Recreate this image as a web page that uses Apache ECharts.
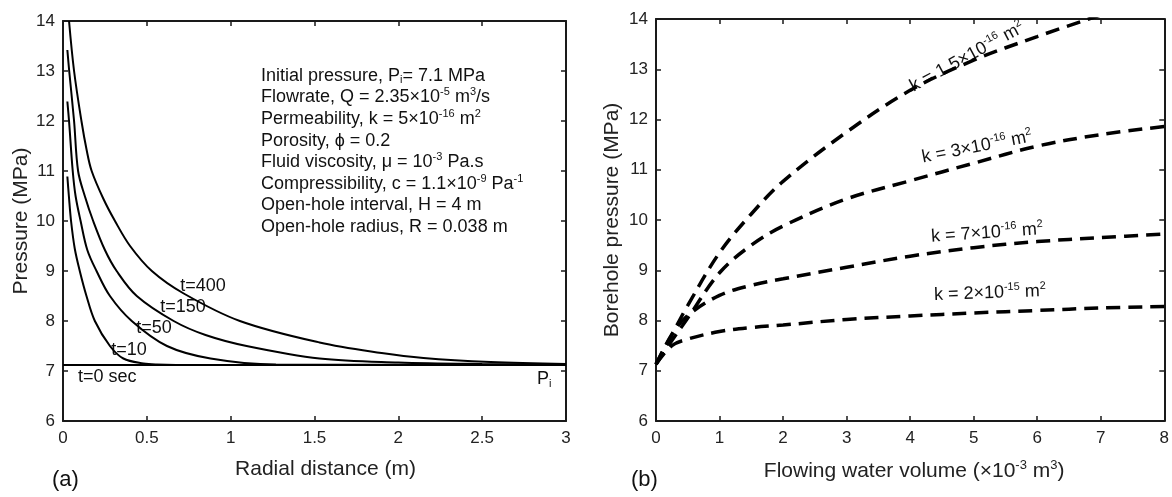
<!DOCTYPE html>
<html>
<head>
<meta charset="utf-8">
<script src="https://cdn.jsdelivr.net/npm/echarts@6/dist/echarts.min.js"></script>
<style>
  html, body { margin: 0; padding: 0; background: #fff; }
  #chart { width: 1172px; height: 497px; }
</style>
</head>
<body>
<div id="chart"></div>
<script>
// (a) pressure vs radial distance, one curve per time
var initialP = 7.12
var distRange = [0, 3]
var t10R = [0.026, 0.035, 0.048, 0.07, 0.1, 0.14, 0.19, 0.28, 0.36, 0.48, 0.56, 0.8, 3]
var t10P = [10.89, 10.5, 10.0, 9.45, 9.0, 8.5, 8.0, 7.5, 7.25, 7.15, 7.13, 7.12, 7.12]
var t50R = [0.026, 0.036, 0.058, 0.075, 0.105, 0.145, 0.2, 0.28, 0.41, 0.62, 0.88, 1.27, 3]
var t50P = [12.39, 12.0, 11.0, 10.5, 10.0, 9.42, 9.0, 8.5, 8.0, 7.5, 7.25, 7.13, 7.12]
var t150R = [0.026, 0.037, 0.066, 0.09, 0.13, 0.18, 0.25, 0.32, 0.44, 0.66, 0.85, 1.095, 1.53, 2.0, 2.5, 3]
var t150P = [13.42, 13.0, 12.0, 11.0, 10.5, 10.0, 9.42, 9.0, 8.5, 8.0, 7.72, 7.5, 7.25, 7.17, 7.14, 7.13]
var t400R = [0.036, 0.066, 0.11, 0.141, 0.171, 0.24, 0.31, 0.4, 0.53, 0.72, 1.055, 1.53, 1.9, 2.15, 2.55, 3]
var t400P = [14.0, 13.0, 12.0, 11.42, 11.0, 10.45, 10.0, 9.5, 9.0, 8.55, 8.0, 7.57, 7.36, 7.26, 7.18, 7.14]

// (b) borehole pressure vs flowing water volume, one curve per permeability
var volume = [0, 0.25, 0.5, 1, 1.5, 2, 3, 4, 5, 6, 7, 8]
var k15e16 = [7.13, 7.72, 8.3, 9.35, 10.12, 10.77, 11.75, 12.58, 13.18, 13.65, 14.08, null]
var k3e16 = [7.13, 7.6, 8.05, 8.95, 9.5, 9.88, 10.42, 10.78, 11.13, 11.47, 11.7, 11.86]
var k7e16 = [7.13, 7.72, 8.1, 8.5, 8.7, 8.83, 9.06, 9.28, 9.45, 9.57, 9.65, 9.72]
var k2e15 = [7.13, 7.5, 7.63, 7.78, 7.86, 7.91, 8.02, 8.09, 8.15, 8.2, 8.25, 8.28]

var FONT = 'Liberation Sans, Arial, sans-serif'

function pairs (xs, ys) {
  var out = []
  for (var i = 0; i < xs.length; i++) {
    if (ys[i] !== null) out.push([xs[i], ys[i]])
  }
  return out
}

function frameAxis (opt) {
  var base = {
    type: 'value',
    axisLine: { show: true, onZero: false, lineStyle: { color: '#1a1a1a', width: 2 } },
    axisTick: { show: true, inside: true, length: 5, lineStyle: { color: '#1a1a1a', width: 1.5 } },
    axisLabel: { color: '#222', fontSize: 17, fontFamily: FONT },
    splitLine: { show: false },
    nameTextStyle: { color: '#222', fontSize: 21, fontFamily: FONT },
    nameLocation: 'middle'
  }
  return Object.assign(base, opt)
}

var rich = {
  n: { fontSize: 18, fontFamily: FONT, fill: '#111', lineHeight: 21.6 },
  sup: { fontSize: 11, fontFamily: FONT, fill: '#111', verticalAlign: 'top', lineHeight: 21.6, padding: [0, 0, 9, 0] },
  sub: { fontSize: 11, fontFamily: FONT, fill: '#111', lineHeight: 21.6, padding: [9, 0, 0, 0] }
}

function centered (x, y, text, deg) {
  return {
    type: 'text',
    x: x,
    y: y,
    rotation: (deg || 0) * Math.PI / 180,
    style: { text: text, rich: rich, align: 'center', verticalAlign: 'middle' }
  }
}

function curve (xs, ys, gridIdx) {
  return {
    type: 'line',
    xAxisIndex: gridIdx * 2,
    yAxisIndex: gridIdx * 2,
    data: pairs(xs, ys),
    showSymbol: false,
    smooth: 0.35,
    lineStyle: { color: '#000', width: 2 },
    silent: true,
    animation: false
  }
}

function dashed (xs, ys) {
  var s = curve(xs, ys, 1)
  s.lineStyle = { color: '#000', width: 3.5, type: [14, 8] }
  return s
}

var params = [
  '{n|Initial pressure, P}{sub|i}{n|= 7.1 MPa}',
  '{n|Flowrate, Q = 2.35×10}{sup|-5}{n| m}{sup|3}{n|/s}',
  '{n|Permeability, k = 5×10}{sup|-16}{n| m}{sup|2}',
  '{n|Porosity, ϕ = 0.2}',
  '{n|Fluid viscosity, μ = 10}{sup|-3}{n| Pa.s}',
  '{n|Compressibility, c = 1.1×10}{sup|-9}{n| Pa}{sup|-1}',
  '{n|Open-hole interval, H = 4 m}',
  '{n|Open-hole radius, R = 0.038 m}'
]

var chart = echarts.init(document.getElementById('chart'))
chart.setOption({
  backgroundColor: '#fff',
  animation: false,
  grid: [
    { left: 63, top: 21, width: 503, height: 400 },
    { left: 656, top: 19, width: 510, height: 402 }
  ],
  xAxis: [
    frameAxis({
      gridIndex: 0, min: distRange[0], max: distRange[1], interval: 0.5,
      name: 'Radial distance (m)', nameGap: 38,
      nameTextStyle: { color: '#222', fontSize: 21, fontFamily: FONT, padding: [0, 0, 0, 22] },
      axisLabel: { color: '#222', fontSize: 17, fontFamily: FONT, margin: 9 }
    }),
    frameAxis({ gridIndex: 0, position: 'top', min: distRange[0], max: distRange[1], interval: 0.5, axisLabel: { show: false } }),
    frameAxis({
      gridIndex: 1, min: 0, max: 8, interval: 1,
      name: '{t|Flowing water volume (×10}{s|-3}{t| m}{s|3}{t|)}', nameGap: 38,
      nameTextStyle: {
        color: '#222',
        fontSize: 21,
        fontFamily: FONT,
        padding: [0, 0, 0, 8],
        rich: {
          t: { color: '#222', fontSize: 21, fontFamily: FONT, lineHeight: 24 },
          s: { color: '#222', fontSize: 13, fontFamily: FONT, lineHeight: 24, verticalAlign: 'top', padding: [0, 0, 10, 0] }
        }
      },
      axisLabel: { color: '#222', fontSize: 17, fontFamily: FONT, margin: 9 }
    }),
    frameAxis({ gridIndex: 1, position: 'top', min: 0, max: 8, interval: 1, axisLabel: { show: false } })
  ],
  yAxis: [
    frameAxis({ gridIndex: 0, min: 6, max: 14, interval: 1, name: 'Pressure (MPa)', nameGap: 31, axisLabel: { color: '#222', fontSize: 17, fontFamily: FONT, margin: 8 } }),
    frameAxis({ gridIndex: 0, position: 'right', min: 6, max: 14, interval: 1, axisLabel: { show: false } }),
    frameAxis({ gridIndex: 1, min: 6, max: 14, interval: 1, name: 'Borehole pressure (MPa)', nameGap: 33, axisLabel: { color: '#222', fontSize: 17, fontFamily: FONT, margin: 8 } }),
    frameAxis({ gridIndex: 1, position: 'right', min: 6, max: 14, interval: 1, axisLabel: { show: false } })
  ],
  series: [
    curve(distRange, [initialP, initialP], 0),
    curve(t10R, t10P, 0),
    curve(t50R, t50P, 0),
    curve(t150R, t150P, 0),
    curve(t400R, t400P, 0),
    dashed(volume, k15e16),
    dashed(volume, k3e16),
    dashed(volume, k7e16),
    dashed(volume, k2e15)
  ],
  graphic: [
    { type: 'text', x: 261, y: 65, style: { text: params.join('\n'), rich: rich } },
    centered(129, 350, '{n|t=10}'),
    centered(154, 328, '{n|t=50}'),
    centered(183, 307, '{n|t=150}'),
    centered(203, 286, '{n|t=400}'),
    { type: 'text', x: 78, y: 377, style: { text: '{n|t=0 sec}', rich: rich, align: 'left', verticalAlign: 'middle' } },
    { type: 'text', x: 537, y: 379, style: { text: '{n|P}{sub|i}', rich: rich, align: 'left', verticalAlign: 'middle' } },
    { type: 'text', x: 52, y: 480, style: { text: '(a)', font: '22px ' + FONT, fill: '#111', align: 'left', verticalAlign: 'middle' } },
    { type: 'text', x: 631, y: 480, style: { text: '(b)', font: '22px ' + FONT, fill: '#111', align: 'left', verticalAlign: 'middle' } },
    centered(967, 57, '{n|k = 1.5×10}{sup|-16}{n| m}{sup|2}', 28.5),
    centered(977, 147, '{n|k = 3×10}{sup|-16}{n| m}{sup|2}', 11),
    centered(987, 233, '{n|k = 7×10}{sup|-16}{n| m}{sup|2}', 4),
    centered(990, 293, '{n|k = 2×10}{sup|-15}{n| m}{sup|2}', 2)
  ]
})
</script>
</body>
</html>
